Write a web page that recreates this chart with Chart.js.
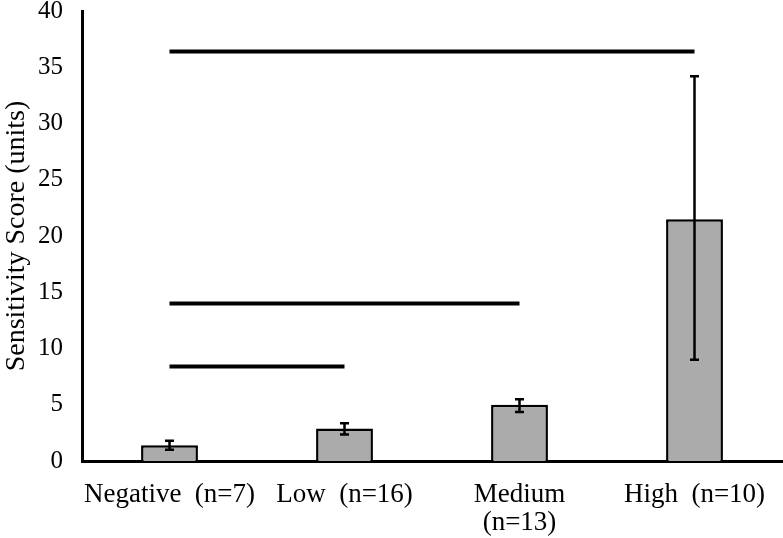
<!DOCTYPE html>
<html>
<head>
<meta charset="utf-8">
<script src="https://cdn.jsdelivr.net/npm/chart.js@4.4.0/dist/chart.umd.min.js"></script>
<style>
  html, body { margin: 0; padding: 0; background: #fff; }
  #wrap { width: 783px; height: 538px; }
</style>
</head>
<body>
<div id="wrap"><canvas id="scoreChart"></canvas></div>
<script>
// chart data
const groups = ['Negative', 'Low', 'Medium', 'High'];
const groupLabels = [['Negative  (n=7)'], ['Low  (n=16)'], ['Medium', '(n=13)'], ['High  (n=10)']];
const meanScore = [1.4, 2.9, 5.0, 21.5];
const errLow = [1.0, 2.35, 4.35, 9.0];
const errHigh = [1.8, 3.35, 5.5, 34.2];
const yTicks = [0, 5, 10, 15, 20, 25, 30, 35, 40];

// significance brackets: [from, to, level]
const sigFrom = ['Negative', 'Negative', 'Negative'];
const sigTo = ['High', 'Medium', 'Low'];
const sigLevel = [36.4, 14.0, 8.4];

const serif = '"Liberation Serif", "Times New Roman", serif';

// Error bar plugin
const errorBars = {
    id: 'errorBars',
    afterDatasetsDraw(chart) {
        const ctx = chart.ctx;
        const meta = chart.getDatasetMeta(0);
        const y = chart.scales.y;
        ctx.save();
        ctx.strokeStyle = '#000';
        ctx.lineWidth = 2.5;
        meta.data.forEach((bar, i) => {
            const x = bar.x;
            const top = y.getPixelForValue(errHigh[i]);
            const bot = y.getPixelForValue(errLow[i]);
            const cap = 4.5;
            ctx.beginPath();
            ctx.moveTo(x, top); ctx.lineTo(x, bot);
            ctx.moveTo(x - cap, top); ctx.lineTo(x + cap, top);
            ctx.moveTo(x - cap, bot); ctx.lineTo(x + cap, bot);
            ctx.stroke();
        });
        ctx.restore();
    }
};

const sigSets = sigLevel.map((lvl, i) => ({
    type: 'line',
    data: [{ x: sigFrom[i], y: lvl }, { x: sigTo[i], y: lvl }],
    borderColor: '#000',
    borderWidth: 4,
    pointRadius: 0,
    fill: false
}));

const scoreCtx = document.getElementById('scoreChart').getContext('2d');
const scoreChart = new Chart(scoreCtx, {
    data: {
        labels: groups,
        datasets: [{
            type: 'bar',
            data: meanScore,
            backgroundColor: '#ababab',
            borderColor: '#000',
            borderWidth: 2.5,
            barPercentage: 0.65,
            categoryPercentage: 0.5
        }, ...sigSets]
    },
    options: {
        responsive: true,
        maintainAspectRatio: false,
        animation: false,
        layout: { padding: { top: 0, right: 1, left: 0, bottom: 0 } },
        plugins: {
            legend: { display: false },
            tooltip: { enabled: false }
        },
        scales: {
            x: {
                type: 'category',
                grid: { display: false, drawTicks: false },
                border: { color: '#000', width: 3 },
                ticks: {
                    color: '#000',
                    font: { family: serif, size: 27, lineHeight: 1.04 },
                    padding: 20,
                    maxRotation: 0,
                    autoSkip: false,
                    callback: (v, i) => groupLabels[i]
                },
                afterFit(scale) {
                    scale.height = 77;
                    scale.paddingLeft = 0;
                    scale.paddingRight = 0;
                }
            },
            y: {
                min: 0,
                max: 40,
                afterBuildTicks(scale) { scale.ticks = yTicks.map(v => ({ value: v })); },
                grid: { display: false, drawTicks: false },
                border: { color: '#000', width: 3 },
                ticks: {
                    color: '#000',
                    font: { family: serif, size: 25 },
                    padding: 19
                },
                title: {
                    display: true,
                    text: 'Sensitivity Score (units)',
                    color: '#000',
                    font: { family: serif, size: 28 },
                    padding: { top: 0, bottom: 2 }
                },
                afterFit(scale) {
                    scale.width = 82;
                    scale.paddingTop = 11;
                    scale.paddingBottom = 0;
                }
            }
        }
    },
    plugins: [errorBars]
});
</script>
</body>
</html>
